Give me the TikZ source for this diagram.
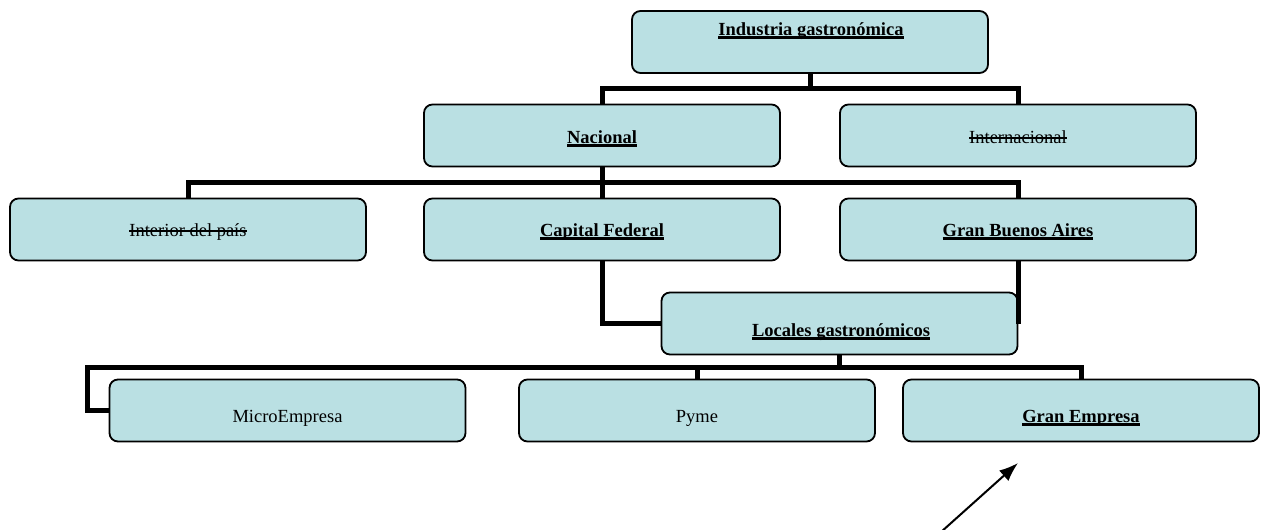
\documentclass[tikz,border=0pt]{standalone}
\usepackage{fontspec}
\setmainfont{Liberation Serif}
\usetikzlibrary{arrows.meta}
\definecolor{boxblue}{RGB}{186,224,227}
\newsavebox{\lblbox}
\newcommand{\bu}[1]{\sbox{\lblbox}{\textbf{#1}}\rlap{\rule[-3.8pt]{\wd\lblbox}{2.4pt}}\usebox{\lblbox}}
\newcommand{\st}[1]{\sbox{\lblbox}{#1}\rlap{\rule[4.2pt]{\wd\lblbox}{1.4pt}}\usebox{\lblbox}}
\begin{document}
\begin{tikzpicture}[x=1pt,y=-1pt,
  box/.style={draw=black,line width=1.8pt,fill=boxblue,rounded corners=8.5pt,
    minimum width=356pt,minimum height=62pt,inner sep=0pt},
  lbl/.style={anchor=base,inner sep=0pt,font=\fontsize{18.5}{22}\selectfont},
  conn/.style={draw=black,line width=5pt,line join=miter},
  pointer/.style={draw=black,line width=2pt,-{Latex[length=19pt,width=14pt]}}]
\useasboundingbox (0,0) rectangle (1264,530);
\coordinate (bar1) at (810,88);
\coordinate (bar2) at (602,182);
\coordinate (bar3) at (87,367);
% boxes
\node[box] (ind) at (810,42) {};
\node[box] (nac) at (602,135.5) {};
\node[box] (int) at (1018,135.5) {};
\node[box] (ipais) at (188,229.5) {};
\node[box] (cap) at (602,229.5) {};
\node[box] (gba) at (1018,229.5) {};
\node[box] (loc) at (839.5,323.5) {};
\node[box] (micro) at (287.5,410.5) {};
\node[box] (pyme) at (697,410.5) {};
\node[box] (gran) at (1081,410.5) {};
% connectors
\draw[conn] (ind.south) -- (bar1);
\draw[conn] (nac.north) |- (bar1) -| (int.north);
\draw[conn] (nac.south) -- (cap.north);
\draw[conn] (ipais.north) |- (gba.north |- bar2) -- (gba.north);
\draw[conn] (cap.south) |- (loc.west);
\draw[conn] (gba.south) -- (gba.south |- loc.east);
\draw[conn] (loc.south) -- (loc.south |- bar3);
\draw[conn] (micro.west) -| (bar3) -| (gran.north);
\draw[conn] (pyme.north) -- (pyme.north |- bar3);
% labels
\node[lbl] (tind) at (811,35) {\bu{Industria gastronómica}};
\node[lbl] (tnac) at (602,143) {\bu{Nacional}};
\node[lbl] (tint) at (1018,143) {\st{Internacional}};
\node[lbl] (tipais) at (188,236) {\st{Interior del país}};
\node[lbl] (tcap) at (602,236) {\bu{Capital Federal}};
\node[lbl] (tgba) at (1018,236) {\bu{Gran Buenos Aires}};
\node[lbl] (tloc) at (841,336) {\bu{Locales gastronómicos}};
\node[lbl] (tmicro) at (287.5,422) {MicroEmpresa};
\node[lbl] (tpyme) at (697,422) {Pyme};
\node[lbl] (tgran) at (1081,422) {\bu{Gran Empresa}};
% pointer arrow
\coordinate (ptail) at (941,532);
\coordinate (ptip) at (1018,463);
\draw[pointer] (ptail) -- (ptip);
\end{tikzpicture}
\end{document}
